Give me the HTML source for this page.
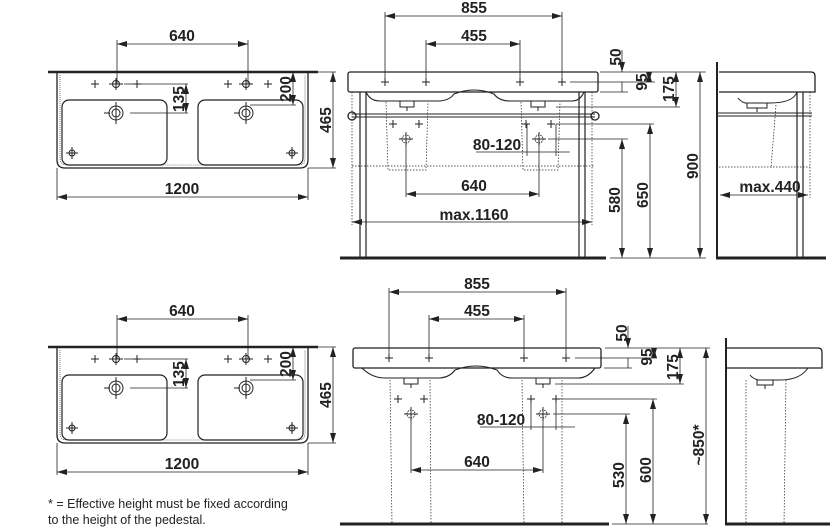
<!DOCTYPE html>
<html><head><meta charset="utf-8"><style>
html,body{margin:0;padding:0;background:#fff;}
svg{display:block;}
text{font-family:"Liberation Sans",sans-serif;font-weight:bold;font-size:15.5px;fill:#222;}
.fn{font-weight:normal;font-size:12.5px;}
</style></head><body>
<svg width="837" height="532" viewBox="0 0 837 532" xmlns="http://www.w3.org/2000/svg">
<defs>
<marker id="a" viewBox="0 0 10 6" refX="10" refY="3" markerWidth="10" markerHeight="6" orient="auto-start-reverse" markerUnits="userSpaceOnUse"><path d="M0,0 L10,3 L0,6 Z" fill="#222"/></marker>
<g id="plan" fill="none" stroke="#222">
 <line x1="48" y1="72" x2="318" y2="72" stroke-width="2.5"/>
 <path d="M57,73 L57,160 Q57,168 65,168 L300,168 Q308,168 308,160 L308,73" stroke-width="1.3"/>
 <path d="M60,75 L60,158 Q60,165 67,165 L298,165 Q305,165 305,158 L305,75" stroke-width="0.6" stroke-dasharray="1 1"/>
 <rect x="62" y="100" width="105" height="65" rx="7" stroke-width="1.2"/>
 <rect x="198" y="100" width="105" height="65" rx="7" stroke-width="1.2"/>
 <g stroke-width="1">
 <circle cx="116" cy="84" r="3.5"/><line x1="109" y1="84" x2="123" y2="84"/><line x1="116" y1="78" x2="116" y2="90"/>
 <circle cx="246" cy="84" r="3.5"/><line x1="239" y1="84" x2="253" y2="84"/><line x1="246" y1="78" x2="246" y2="90"/>
 <path d="M91,84h8M95,80v8M133,84h8M137,80v8M224,84h8M228,80v8M264,84h8M268,80v8"/>
 <circle cx="116" cy="113" r="7"/><circle cx="116" cy="113" r="4"/><line x1="116" y1="102" x2="116" y2="124"/><line x1="104" y1="113" x2="110" y2="113"/>
 <circle cx="246" cy="113" r="7"/><circle cx="246" cy="113" r="4"/><line x1="246" y1="102" x2="246" y2="124"/><line x1="234" y1="113" x2="240" y2="113"/>
 <path d="M66,153h12M72,147v12M286,153h12M292,147v12"/>
 <circle cx="72" cy="153" r="3"/><circle cx="292" cy="153" r="3"/>
 </g>
 <g stroke-width="0.8">
 <line x1="117" y1="40" x2="117" y2="84"/><line x1="248" y1="40" x2="248" y2="84"/>
 <line x1="117" y1="44" x2="248" y2="44" marker-start="url(#a)" marker-end="url(#a)"/>
 <line x1="124" y1="84" x2="133" y2="84"/><line x1="141" y1="84" x2="188" y2="84"/><line x1="130" y1="113" x2="188" y2="113"/>
 <line x1="186" y1="84" x2="186" y2="113" marker-start="url(#a)" marker-end="url(#a)"/>
 <line x1="250" y1="105" x2="296" y2="105"/>
 <line x1="293" y1="72" x2="293" y2="105" marker-start="url(#a)" marker-end="url(#a)"/>
 <line x1="318" y1="72" x2="336" y2="72"/><line x1="308" y1="168" x2="336" y2="168"/>
 <line x1="333" y1="72" x2="333" y2="168" marker-start="url(#a)" marker-end="url(#a)"/>
 <line x1="57" y1="168" x2="57" y2="200"/><line x1="308" y1="168" x2="308" y2="200"/>
 <line x1="57" y1="197" x2="308" y2="197" marker-start="url(#a)" marker-end="url(#a)"/>
 </g>
</g>
</defs>

<use href="#plan"/>
<use href="#plan" transform="translate(0,275)"/>
<g>
<text x="182" y="41" text-anchor="middle">640</text>
<text x="182" y="194" text-anchor="middle">1200</text>
<text transform="translate(184,99) rotate(-90)" text-anchor="middle">135</text>
<text transform="translate(291,89) rotate(-90)" text-anchor="middle">200</text>
<text transform="translate(331,120) rotate(-90)" text-anchor="middle">465</text>
<text x="182" y="316" text-anchor="middle">640</text>
<text x="182" y="469" text-anchor="middle">1200</text>
<text transform="translate(184,374) rotate(-90)" text-anchor="middle">135</text>
<text transform="translate(291,364) rotate(-90)" text-anchor="middle">200</text>
<text transform="translate(331,395) rotate(-90)" text-anchor="middle">465</text>
</g>

<!-- TOP FRONT VIEW -->
<g fill="none" stroke="#222">
 <rect x="348" y="72" width="250" height="20" rx="2" stroke-width="1.3"/>
 <path d="M366,92 Q370,101 380,101 L440,101 Q450,100 454,94 Q474,86 494,94 Q499,101 510,101 L572,101 Q580,101 584,92" stroke-width="1.1"/>
 <path d="M400,101v6h14v-6M407,107v4M531,101v6h14v-6M538,107v4" stroke-width="1"/>
 <g stroke-width="1.2"><path d="M360,92V258M366,92V258M579,92V258M585,92V258"/></g>
 <line x1="352" y1="114" x2="595" y2="114" stroke-width="1"/><line x1="352" y1="117" x2="595" y2="117" stroke-width="1"/>
 <circle cx="352" cy="116" r="4" stroke-width="1.3"/><circle cx="595" cy="116" r="4" stroke-width="1.3"/>
 <g stroke-width="0.7" stroke-dasharray="1.5 1.5">
  <path d="M386,102 L388,170 L426,170 L428,102M521,102 L523,170 L558,170 L560,102"/>
  <line x1="352" y1="166" x2="595" y2="166"/>
  <line x1="352" y1="92" x2="352" y2="225"/><line x1="592" y1="92" x2="592" y2="225"/>
 </g>
 <path d="M381,82h8M385,78v8M422,82h8M426,78v8M516,82h8M520,78v8M558,82h8M562,78v8M389,124h8M393,120v8M415,124h8M419,120v8M522,124h8M526,120v8M547,124h8M551,120v8" stroke-width="1"/>
 <g stroke-width="0.9"><path d="M399,139h14M406,132v14M532,139h14M539,132v14"/><circle cx="406" cy="139" r="4" stroke-dasharray="1.5 1"/><circle cx="539" cy="139" r="4" stroke-dasharray="1.5 1"/></g>
 <line x1="340" y1="258" x2="606" y2="258" stroke-width="3"/>
 <g stroke-width="0.8">
  <line x1="385" y1="12" x2="385" y2="82"/><line x1="562" y1="12" x2="562" y2="82"/>
  <line x1="385" y1="16" x2="562" y2="16" marker-start="url(#a)" marker-end="url(#a)"/>
  <line x1="426" y1="40" x2="426" y2="82"/><line x1="520" y1="40" x2="520" y2="82"/>
  <line x1="426" y1="44" x2="520" y2="44" marker-start="url(#a)" marker-end="url(#a)"/>
  <line x1="600" y1="72" x2="706" y2="72"/><line x1="570" y1="82" x2="655" y2="82"/><line x1="600" y1="92" x2="628" y2="92"/>
  <line x1="556" y1="107" x2="680" y2="107"/><line x1="556" y1="124" x2="654" y2="124"/><line x1="548" y1="139" x2="628" y2="139"/>
  <line x1="622" y1="50" x2="622" y2="72" marker-end="url(#a)"/><line x1="622" y1="82" x2="622" y2="92"/>
  <line x1="649" y1="72" x2="649" y2="82" marker-start="url(#a)" marker-end="url(#a)"/>
  <line x1="676" y1="72" x2="676" y2="107" marker-start="url(#a)" marker-end="url(#a)"/>
  <line x1="700" y1="72" x2="700" y2="258" marker-start="url(#a)" marker-end="url(#a)"/>
  <line x1="650" y1="124" x2="650" y2="258" marker-start="url(#a)" marker-end="url(#a)"/>
  <line x1="622" y1="139" x2="622" y2="258" marker-start="url(#a)" marker-end="url(#a)"/>
  <line x1="610" y1="258" x2="706" y2="258"/>
  <line x1="476" y1="152" x2="570" y2="152"/>
  <line x1="527" y1="124" x2="527" y2="156"/><line x1="556" y1="124" x2="556" y2="156"/>
  <line x1="406" y1="139" x2="406" y2="197"/><line x1="539" y1="139" x2="539" y2="197"/>
  <line x1="406" y1="194" x2="539" y2="194" marker-start="url(#a)" marker-end="url(#a)"/>
  <line x1="352" y1="222" x2="592" y2="222" marker-start="url(#a)" marker-end="url(#a)"/>
 </g>
</g>
<text x="474" y="13" text-anchor="middle">855</text>
<text x="474" y="41" text-anchor="middle">455</text>
<text x="497" y="150" text-anchor="middle">80-120</text>
<text x="474" y="191" text-anchor="middle">640</text>
<text x="474" y="220" text-anchor="middle">max.1160</text>
<text transform="translate(621,57) rotate(-90)" text-anchor="middle">50</text>
<text transform="translate(647,82) rotate(-90)" text-anchor="middle">95</text>
<text transform="translate(674,89) rotate(-90)" text-anchor="middle">175</text>
<text transform="translate(698,166) rotate(-90)" text-anchor="middle">900</text>
<text transform="translate(648,195) rotate(-90)" text-anchor="middle">650</text>
<text transform="translate(620,200) rotate(-90)" text-anchor="middle">580</text>

<!-- TOP SIDE VIEW -->
<g fill="none" stroke="#222">
 <line x1="717" y1="62" x2="717" y2="259" stroke-width="2"/>
 <line x1="716" y1="258" x2="826" y2="258" stroke-width="3"/>
 <path d="M719,72 L811,72 Q815,72 815,76 L815,92 L719,92" stroke-width="1.3"/>
 <path d="M797,92 Q793,103 770,103 L745,103 Q740,101 738,98" stroke-width="1"/>
 <path d="M747,103v5h20v-5M757,108v4" stroke-width="1"/>
 <line x1="717" y1="113" x2="812" y2="113" stroke-width="1"/><line x1="717" y1="116" x2="812" y2="116" stroke-width="1"/>
 <path d="M797,92V258M803,92V258" stroke-width="1.2"/>
 <g stroke-width="0.7" stroke-dasharray="1.5 1.5"><path d="M776,105 L771,168 M719,167 L810,167 M810,92 L810,198"/></g>
 <line x1="720" y1="195" x2="808" y2="195" stroke-width="0.8" marker-start="url(#a)" marker-end="url(#a)"/>
</g>
<text x="770" y="192" text-anchor="middle">max.440</text>

<!-- BOTTOM FRONT VIEW -->
<g fill="none" stroke="#222">
 <rect x="353" y="348" width="248" height="20" rx="2" stroke-width="1.3"/>
 <path d="M362,368 Q372,378 385,378 L440,378 Q450,377 455,370 Q476,362 497,370 Q502,378 512,378 L578,378 Q588,378 595,368" stroke-width="1.1"/>
 <path d="M404,378v6h14v-6M411,384v4M536,378v6h14v-6M543,384v4" stroke-width="1"/>
 <g stroke-width="0.7" stroke-dasharray="1.5 1.5"><path d="M390,380 L392,524M430,380 L431,524M522,380 L524,524M562,380 L562,524"/></g>
 <path d="M385,358h8M389,354v8M425,358h8M429,354v8M520,358h8M524,354v8M562,358h8M566,354v8M394,399h8M398,395v8M420,399h8M424,395v8M527,399h8M531,395v8M552,399h8M556,395v8" stroke-width="1"/>
 <g stroke-width="0.9"><path d="M404,414h14M411,407v14M536,414h14M543,407v14"/><circle cx="411" cy="414" r="4" stroke-dasharray="1.5 1"/><circle cx="543" cy="414" r="4" stroke-dasharray="1.5 1"/></g>
 <line x1="340" y1="524" x2="609" y2="524" stroke-width="3"/>
 <g stroke-width="0.8">
  <line x1="389" y1="288" x2="389" y2="358"/><line x1="566" y1="288" x2="566" y2="358"/>
  <line x1="389" y1="292" x2="566" y2="292" marker-start="url(#a)" marker-end="url(#a)"/>
  <line x1="429" y1="315" x2="429" y2="358"/><line x1="524" y1="315" x2="524" y2="358"/>
  <line x1="429" y1="319" x2="524" y2="319" marker-start="url(#a)" marker-end="url(#a)"/>
  <line x1="605" y1="348" x2="710" y2="348"/><line x1="575" y1="358" x2="657" y2="358"/><line x1="604" y1="368" x2="632" y2="368"/>
  <line x1="555" y1="384" x2="684" y2="384"/><line x1="560" y1="399" x2="657" y2="399"/><line x1="553" y1="414" x2="630" y2="414"/>
  <line x1="628" y1="326" x2="628" y2="348" marker-end="url(#a)"/><line x1="628" y1="358" x2="628" y2="368"/>
  <line x1="654" y1="348" x2="654" y2="358" marker-start="url(#a)" marker-end="url(#a)"/>
  <line x1="680" y1="348" x2="680" y2="384" marker-start="url(#a)" marker-end="url(#a)"/>
  <line x1="706" y1="348" x2="706" y2="524" marker-start="url(#a)" marker-end="url(#a)"/>
  <line x1="653" y1="399" x2="653" y2="524" marker-start="url(#a)" marker-end="url(#a)"/>
  <line x1="626" y1="414" x2="626" y2="524" marker-start="url(#a)" marker-end="url(#a)"/>
  <line x1="612" y1="524" x2="708" y2="524"/>
  <line x1="480" y1="427" x2="575" y2="427"/>
  <line x1="531" y1="399" x2="531" y2="430"/><line x1="556" y1="399" x2="556" y2="430"/>
  <line x1="411" y1="414" x2="411" y2="473"/><line x1="543" y1="414" x2="543" y2="473"/>
  <line x1="411" y1="470" x2="543" y2="470" marker-start="url(#a)" marker-end="url(#a)"/>
 </g>
</g>
<text x="477" y="289" text-anchor="middle">855</text>
<text x="477" y="316" text-anchor="middle">455</text>
<text x="501" y="425" text-anchor="middle">80-120</text>
<text x="477" y="467" text-anchor="middle">640</text>
<text transform="translate(627,333) rotate(-90)" text-anchor="middle">50</text>
<text transform="translate(652,357) rotate(-90)" text-anchor="middle">95</text>
<text transform="translate(678,367) rotate(-90)" text-anchor="middle">175</text>
<text transform="translate(704,445) rotate(-90)" text-anchor="middle">~850*</text>
<text transform="translate(651,470) rotate(-90)" text-anchor="middle">600</text>
<text transform="translate(624,475) rotate(-90)" text-anchor="middle">530</text>

<!-- BOTTOM SIDE VIEW -->
<g fill="none" stroke="#222">
 <line x1="726" y1="338" x2="726" y2="525" stroke-width="2"/>
 <line x1="725" y1="524" x2="830" y2="524" stroke-width="3"/>
 <path d="M727,348 L818,348 Q822,348 822,352 L822,368 L727,368" stroke-width="1.3"/>
 <path d="M808,368 Q800,380 780,380 L758,380 Q752,378 750,375" stroke-width="1"/>
 <path d="M757,380v5h16v-5M765,385v4" stroke-width="1"/>
 <g stroke-width="0.7" stroke-dasharray="1.5 1.5"><path d="M746,380 L746,524M786,380 L784,524"/></g>
</g>

<text class="fn" x="48" y="508">* = Effective height must be fixed according</text>
<text class="fn" x="48" y="524">to the height of the pedestal.</text>
</svg>
</body></html>
